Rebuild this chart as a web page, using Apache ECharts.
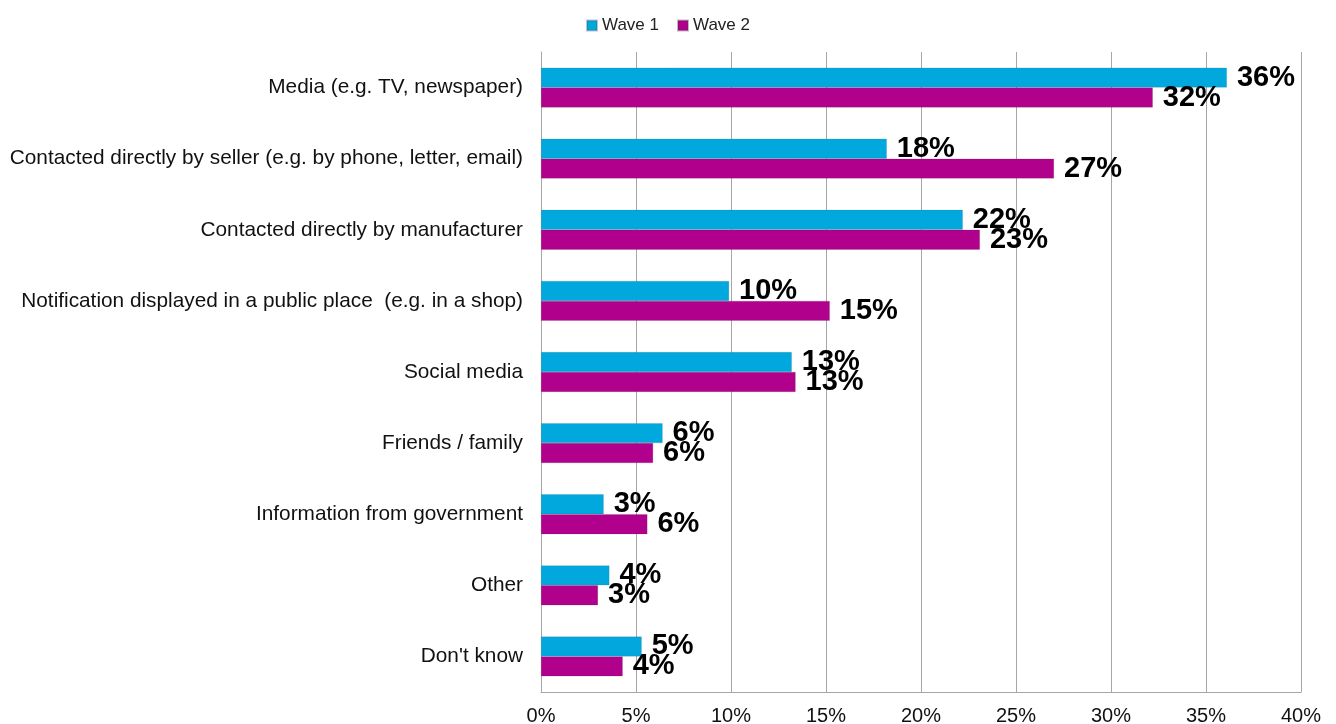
<!DOCTYPE html>
<html>
<head>
<meta charset="utf-8">
<script src="https://cdn.jsdelivr.net/npm/echarts@6/dist/echarts.min.js"></script>
<style>
  html, body { margin: 0; padding: 0; background: #fff; }
  #chart { width: 1336px; height: 724px; }
</style>
</head>
<body>
<div id="chart"></div>
<script>
// Sources of information, share of respondents (%)
const categories = [
  'Media (e.g. TV, newspaper)',
  'Contacted directly by seller (e.g. by phone, letter, email)',
  'Contacted directly by manufacturer',
  'Notification displayed in a public place  (e.g. in a shop)',
  'Social media',
  'Friends / family',
  'Information from government',
  'Other',
  "Don't know"
];
const wave1 = [36.1, 18.2, 22.2, 9.9, 13.2, 6.4, 3.3, 3.6, 5.3];
const wave2 = [32.2, 27.0, 23.1, 15.2, 13.4, 5.9, 5.6, 3.0, 4.3];
const xTicks = [0, 5, 10, 15, 20, 25, 30, 35, 40];

const font = 'Liberation Sans, Arial, sans-serif';
const chart = echarts.init(document.getElementById('chart'), null, { renderer: 'canvas' });

const valueLabel = {
  show: true,
  position: 'right',
  distance: 10,
  fontFamily: font,
  fontWeight: 'bold',
  fontSize: 29,
  color: '#000',
  formatter: p => Math.round(p.value) + '%'
};

chart.setOption({
  animation: false,
  textStyle: { fontFamily: font },
  legend: {
    top: 12,
    left: 'center',
    itemWidth: 10,
    itemHeight: 10,
    itemGap: 18,
    icon: 'rect',
    textStyle: { fontFamily: font, fontSize: 17, color: '#222' },
    data: ['Wave 1', 'Wave 2']
  },
  grid: { left: 541, right: 35, top: 52, bottom: 32, containLabel: false, outerBoundsMode: 'none' },
  xAxis: {
    type: 'value',
    min: xTicks[0],
    max: xTicks[xTicks.length - 1],
    interval: 5,
    axisLine: { show: true, lineStyle: { color: '#a6a6a6' } },
    axisTick: { show: false },
    splitLine: { show: true, lineStyle: { color: '#a6a6a6', width: 1 } },
    axisLabel: {
      fontFamily: font, fontSize: 20, color: '#111', margin: 14,
      formatter: v => v + '%'
    }
  },
  yAxis: {
    type: 'category',
    inverse: true,
    data: categories,
    axisLine: { show: true, lineStyle: { color: '#a6a6a6' } },
    axisTick: { show: false },
    axisLabel: { fontFamily: font, fontSize: 20.8, color: '#111', margin: 18 }
  },
  series: [
    {
      name: 'Wave 1', type: 'bar', data: wave1,
      barGap: '0%', barCategoryGap: '44%',
      itemStyle: { color: '#00a8de', borderColor: 'rgba(60,90,110,0.35)', borderWidth: 0.5 },
      label: valueLabel
    },
    {
      name: 'Wave 2', type: 'bar', data: wave2,
      barGap: '0%', barCategoryGap: '44%',
      itemStyle: { color: '#b0008c', borderColor: 'rgba(90,40,80,0.35)', borderWidth: 0.5 },
      label: valueLabel
    }
  ]
});
</script>
</body>
</html>
